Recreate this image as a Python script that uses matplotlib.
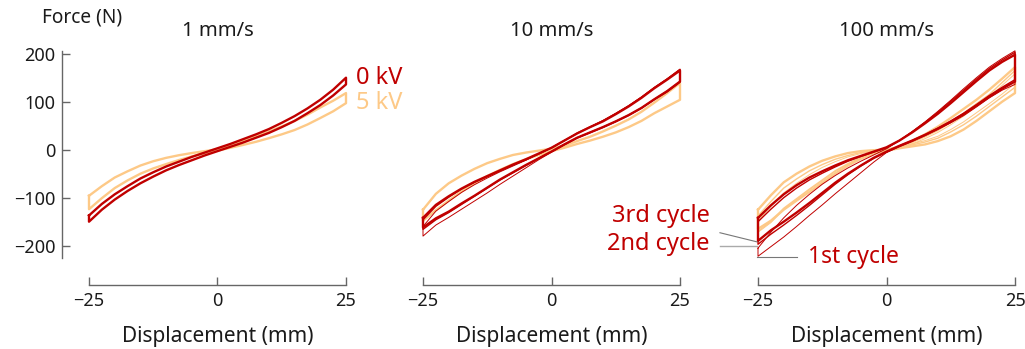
import matplotlib
matplotlib.use('Agg')
import matplotlib.pyplot as plt

plt.rcParams['font.family'] = ['Noto Sans', 'DejaVu Sans']

# displacement grid (mm), shared by every branch
disp = [-25, -22.5, -20, -17.5, -15, -12.5, -10, -7.5, -5, -2.5, 0,
        2.5, 5, 7.5, 10, 12.5, 15, 17.5, 20, 22.5, 25]

# force (N); "up" = moving right, "down" = moving left, both listed along disp
# 1 mm/s
s1_0kv_up = [-137, -113, -93, -76, -60, -47, -35, -25, -15, -6, 3, 12, 22, 32, 43, 56, 70, 86, 104, 125, 150]
s1_0kv_down = [-150, -125, -104, -86, -70, -56, -43, -32, -22, -12, -3, 6, 15, 25, 35, 47, 60, 76, 93, 113, 136]
s1_5kv_up = [-96, -76, -58, -45, -33, -24, -17, -11.5, -7, -3, 1, 9, 18, 28, 38, 48.5, 60, 73, 88, 102, 118]
s1_5kv_down = [-124, -101, -80, -64, -50, -39, -30, -21.5, -14, -7.5, -2, 4, 10, 16.5, 24, 32, 41, 52.5, 66, 80, 97]

# 10 mm/s
s10_0kv_c1_up = [-160, -128, -108, -89, -73, -59, -46, -34, -22, -9, 4, 19, 35, 48, 61, 76, 92, 110, 130, 148, 168]
s10_0kv_c1_down = [-180, -157, -141, -124, -107, -90, -72, -55, -38, -21, -5, 10, 24, 35, 46, 58, 71, 86, 104, 120, 140]
s10_0kv_c2_up = [-146, -118, -99, -82, -68, -56, -44, -32, -21, -9, 4, 19, 34, 47, 60, 75, 91, 109, 129, 147, 167]
s10_0kv_c2_down = [-166, -146, -131, -114, -97, -80, -63, -48, -33, -18, -4, 11, 25, 36, 47, 59, 72, 87, 105, 122, 142]
s10_0kv_c3_up = [-142, -115, -97, -81, -67, -55, -43, -31, -20, -8, 4, 19, 34, 47, 59, 74, 90, 108, 128, 146, 165]
s10_0kv_c3_down = [-162, -143, -129, -112, -96, -79, -62, -47, -32, -18, -4, 11, 25, 36, 47, 59, 72, 87, 105, 122, 142]
s10_5kv_up = [-125, -92, -70, -54, -40, -28, -19, -11, -6, -2, 2, 9, 18, 27, 38, 50, 63, 79, 98, 118, 139]
s10_5kv_down = [-148, -126, -106, -87, -70, -55, -42, -30, -20, -11, -3, 4, 12, 19, 27, 36, 47, 60, 76, 90, 104]

# 100 mm/s
s100_0kv_c1_up = [-205, -172, -142, -116, -93, -72, -54, -38, -24, -11, 2, 19, 38, 58, 80, 103, 127, 150, 172, 190, 206]
s100_0kv_c1_down = [-222, -202, -182, -160, -137, -115, -92, -70, -48, -26, -6, 6, 17, 29, 42, 56, 71, 89, 108, 124, 136]
s100_0kv_c2_up = [-150, -124, -100, -80, -63, -49, -36, -24, -14, -5, 4, 19, 37, 57, 78, 101, 124, 147, 169, 187, 203]
s100_0kv_c2_down = [-197, -176, -157, -137, -116, -94, -72, -52, -34, -18, -5, 8, 19, 31, 45, 60, 76, 94, 113, 130, 146]
s100_0kv_c3_up = [-142, -116, -93, -74, -58, -45, -33, -22, -13, -4, 5, 19, 36, 55, 75, 97, 120, 143, 165, 183, 198]
s100_0kv_c3_down = [-190, -168, -150, -131, -111, -90, -69, -50, -33, -17, -4, 8, 19, 31, 44, 58, 74, 92, 110, 127, 142]
s100_5kv_c1_up = [-148, -118, -90, -70, -52, -37, -25, -15, -8, -3, 0, 5, 12, 23, 36, 52, 70, 90, 110, 134, 158]
s100_5kv_c1_down = [-172, -152, -125, -104, -84, -65, -46, -30, -17, -7, -1, 5, 12, 19, 28, 42, 58, 77, 96, 116, 138]
s100_5kv_c2_up = [-138, -108, -80, -61, -44, -31, -20, -12, -6, -2, 0, 6, 15, 27, 40, 57, 76, 96, 115, 140, 165]
s100_5kv_c2_down = [-170, -150, -122, -102, -82, -63, -44, -29, -16, -6, -1, 3, 10, 16, 24, 37, 52, 70, 90, 110, 130]
s100_5kv_c3_up = [-125, -95, -68, -50, -35, -23, -14, -7, -3, -1, 0, 6, 18, 32, 48, 66, 85, 104, 125, 148, 172]
s100_5kv_c3_down = [-165, -148, -125, -106, -88, -69, -50, -33, -19, -8, -2, 3, 7, 11, 18, 28, 42, 60, 80, 100, 118]

speeds = ['1 mm/s', '10 mm/s', '100 mm/s']

red = '#c00000'
orange = '#fdc987'
grey = '#666666'

thin, mid, thick = 0.7, 1.0, 1.7

# (up, down, linewidth) per cycle
loops_5kv = [
    [(s1_5kv_up, s1_5kv_down, thick)],
    [(s10_5kv_up, s10_5kv_down, thick)],
    [(s100_5kv_c1_up, s100_5kv_c1_down, thin),
     (s100_5kv_c2_up, s100_5kv_c2_down, mid),
     (s100_5kv_c3_up, s100_5kv_c3_down, thick)],
]
loops_0kv = [
    [(s1_0kv_up, s1_0kv_down, thick)],
    [(s10_0kv_c1_up, s10_0kv_c1_down, thin),
     (s10_0kv_c2_up, s10_0kv_c2_down, mid),
     (s10_0kv_c3_up, s10_0kv_c3_down, thick)],
    [(s100_0kv_c1_up, s100_0kv_c1_down, thin),
     (s100_0kv_c2_up, s100_0kv_c2_down, mid),
     (s100_0kv_c3_up, s100_0kv_c3_down, thick)],
]

W, H = 1025, 349
fig = plt.figure(figsize=(W / 100, H / 100), dpi=100)

lefts = [89, 423, 758]
axes = []
for i, l in enumerate(lefts):
    ax = fig.add_axes([l / W, 1 - 257.7 / H, 257 / W, 206.4 / H])
    axes.append(ax)
    for loops, col in ((loops_5kv[i], orange), (loops_0kv[i], red)):
        for up, down, lw in loops:
            xs = disp + disp[::-1] + [disp[0]]
            ys = up + down[::-1] + [up[0]]
            ax.plot(xs, ys, color=col, lw=lw, clip_on=False, solid_joinstyle='round')

    ax.set_xlim(-25, 25)
    ax.set_ylim(-225, 205)
    ax.set_xticks([-25, 0, 25])
    ax.set_xticklabels(['\u221225', '0', '25'])
    for s in ['top', 'right']:
        ax.spines[s].set_visible(False)
    ax.spines['bottom'].set_position(('outward', 19.4))
    ax.spines['bottom'].set_bounds(-25, 25)
    ax.spines['bottom'].set_color(grey)
    ax.spines['bottom'].set_linewidth(1.0)
    ax.tick_params(axis='both', direction='in', length=6, width=1.0,
                   color=grey, labelsize=13, labelcolor='#1a1a1a', pad=5)
    ax.set_xlabel('Displacement (mm)', fontsize=15, color='#1a1a1a', labelpad=12)
    if i == 0:
        ax.spines['left'].set_position(('outward', 19.4))
        ax.spines['left'].set_color(grey)
        ax.spines['left'].set_linewidth(1.0)
        ax.set_yticks([-200, -100, 0, 100, 200])
        ax.set_yticklabels(['\u2212200', '\u2212100', '0', '100', '200'])
    else:
        ax.spines['left'].set_visible(False)
        ax.set_yticks([])
    ax.patch.set_visible(False)
    fig.text((l + 128.5) / W, 1 - 31 / H, speeds[i], ha='center', va='center',
             fontsize=14.5, color='#1a1a1a')

fig.text(82 / W, 1 - 18 / H, 'Force (N)', ha='center', va='center',
         fontsize=13.7, color='#1a1a1a')

# voltage labels
axes[0].text(26.9, 150, '0 kV', color=red, fontsize=17, ha='left', va='center')
axes[0].text(26.9, 98, '5 kV', color=orange, fontsize=17, ha='left', va='center')

# cycle labels
ax3 = axes[2]
ax3.plot([-32.4, -25.2], [-173, -192], color='#777777', lw=0.8, clip_on=False)
ax3.plot([-32.4, -25.2], [-200, -200], color='#aaaaaa', lw=1.0, clip_on=False)
ax3.plot([-25.2, -17.4], [-223, -223], color='#777777', lw=0.8, clip_on=False)
ax3.text(-34.4, -137.5, '3rd cycle', color=red, fontsize=17, ha='right', va='center')
ax3.text(-34.4, -196, '2nd cycle', color=red, fontsize=17, ha='right', va='center')
ax3.text(-15.2, -223, '1st cycle', color=red, fontsize=16.5, ha='left', va='center')

fig.savefig('out.png', dpi=100)
